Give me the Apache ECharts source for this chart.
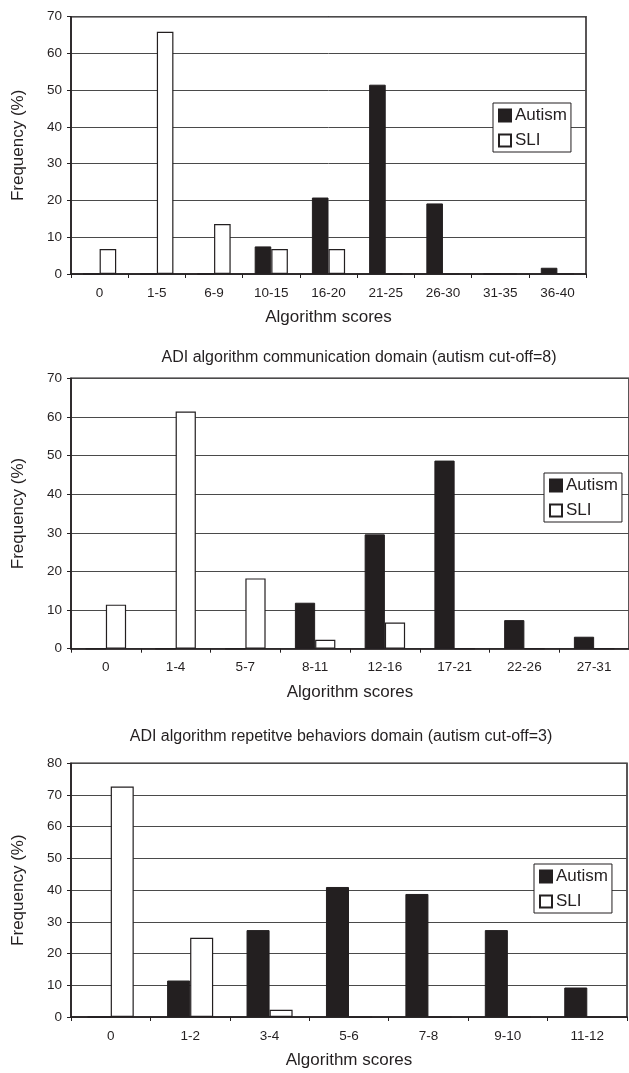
<!DOCTYPE html>
<html>
<head>
<meta charset="utf-8">
<script src="https://cdn.jsdelivr.net/npm/echarts@6/dist/echarts.min.js"></script>
<style>
html,body{margin:0;padding:0;background:#fff;}
#c{width:629px;height:1073px;}
</style>
</head>
<body>
<div id="c"></div>
<script>
// ---- data ----
const cats1 = ['0','1-5','6-9','10-15','16-20','21-25','26-30','31-35','36-40'];
const autism1 = [0,0,0,7.5,20.8,51.5,19.2,0,1.7];
const sli1 = [6.8,65.9,13.6,6.8,6.8,0,0,0,0];

const cats2 = ['0','1-4','5-7','8-11','12-16','17-21','22-26','27-31'];
const autism2 = [0,0,0,11.9,29.6,48.7,7.4,3.1];
const sli2 = [11.4,61.4,18.2,2.3,6.8,0,0,0];

const cats3 = ['0','1-2','3-4','5-6','7-8','9-10','11-12'];
const autism3 = [0,11.5,27.4,41.0,38.8,27.4,9.3];
const sli3 = [72.7,25.0,2.3,0,0,0,0];

const title2 = 'ADI algorithm communication domain (autism cut-off=8)';
const title3 = 'ADI algorithm repetitve behaviors domain (autism cut-off=3)';
const xName = 'Algorithm scores';
const yName = 'Frequency (%)';
const seriesNames = ['Autism','SLI'];
const yMax = [70,70,80];

// ---- styles ----
const INK = '#231f20';
const FONT = '"Liberation Sans", Arial, Helvetica, sans-serif';

const grids = [
  {left:71, top:16.7, width:515, height:257.3},
  {left:71, top:378.3, width:562, height:270.4},
  {left:71, top:763.3, width:556, height:253.7}
];
const legendPos = [
  {left:493, top:103},
  {left:544, top:473},
  {left:534, top:864}
];
const catsAll = [cats1,cats2,cats3];
const autAll = [autism1,autism2,autism3];
const sliAll = [sli1,sli2,sli3];

const option = {
  animation:false,
  backgroundColor:'#fff',
  textStyle:{fontFamily:FONT, color:INK},
  grid: grids.map(g => Object.assign({show:true, borderColor:INK, borderWidth:1.5, backgroundColor:'transparent'}, g)),
  xAxis: catsAll.map((c,i) => ({
    type:'category', gridIndex:i, data:c,
    name:xName, nameLocation:'middle', nameGap:35,
    nameTextStyle:{fontSize:17, color:INK, fontFamily:FONT},
    axisLine:{lineStyle:{color:INK, width:1.5}},
    axisTick:{show:true, length:4, inside:false, alignWithLabel:false, lineStyle:{color:INK, width:1}},
    axisLabel:{fontSize:13.5, color:INK, margin:12, fontFamily:FONT, interval:0},
    splitLine:{show:false}
  })),
  yAxis: yMax.map((m,i) => ({
    type:'value', gridIndex:i, min:0, max:m, interval:10,
    name:yName, nameLocation:'middle', nameGap:44,
    nameTextStyle:{fontSize:17, color:INK, fontFamily:FONT},
    axisLine:{show:true, lineStyle:{color:INK, width:1.5}},
    axisTick:{show:true, length:4, lineStyle:{color:INK, width:1}},
    axisLabel:{fontSize:13.5, color:INK, margin:9, fontFamily:FONT},
    splitLine:{show:true, lineStyle:{color:'#4a4a4a', width:1}}
  })),
  legend: legendPos.map((p,i) => ({
    left:p.left, top:p.top, orient:'vertical',
    data:seriesNames,
    icon:'rect', itemWidth:12, itemHeight:12, itemGap:8,
    backgroundColor:'#fff', borderColor:INK, borderWidth:1,
    padding:[4,4,3,5],
    textStyle:{fontSize:17, color:INK, fontFamily:FONT, padding:[0,0,0,-1]},
    selectedMode:false
  })),
  graphic: [
    {type:'text', x:359, y:358, style:{text:title2, align:'center', verticalAlign:'middle', font:'16px '+FONT, fill:INK}},
    {type:'text', x:341, y:737, style:{text:title3, align:'center', verticalAlign:'middle', font:'16px '+FONT, fill:INK}}
  ],
  series: []
};

for (let i=0;i<3;i++){
  option.series.push({
    name:seriesNames[0], type:'bar', xAxisIndex:i, yAxisIndex:i,
    data:autAll[i], barGap:'0%', barCategoryGap:'42%',
    itemStyle:{color:INK, borderColor:INK, borderWidth:1}
  });
  option.series.push({
    name:seriesNames[1], type:'bar', xAxisIndex:i, yAxisIndex:i,
    data:sliAll[i], barGap:'0%', barCategoryGap:'42%',
    itemStyle:{color:'#fff', borderColor:INK, borderWidth:1.2}
  });
}

const chart = echarts.init(document.getElementById('c'));
chart.setOption(option);
</script>
</body>
</html>
